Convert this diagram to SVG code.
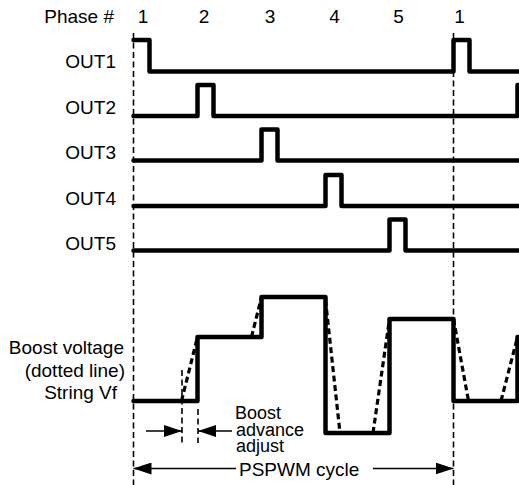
<svg xmlns="http://www.w3.org/2000/svg" width="519" height="485" viewBox="0 0 519 485">
<defs>
<style>
text{font-family:"Liberation Sans",Arial,sans-serif;font-size:19px;fill:#000}
.r{text-anchor:end}
.c{text-anchor:middle}
.s{font-size:18px}
.sig{fill:none;stroke:#000;stroke-width:4.5;stroke-linejoin:round;stroke-linecap:round}
.ref{fill:none;stroke:#000;stroke-width:1.6;stroke-dasharray:6 3.5}
.dot{fill:none;stroke:#000;stroke-width:3.2;stroke-dasharray:6 3.5}
.arr{fill:none;stroke:#000;stroke-width:1.6}
</style>
<marker id="ah" viewBox="0 0 18 12" refX="18" refY="6" markerWidth="18" markerHeight="12" markerUnits="userSpaceOnUse" orient="auto">
<path d="M0 0L18 6L0 12z" fill="#000"/>
</marker>
</defs>
<rect width="519" height="485" fill="#fff"/>
<g id="labels">
<text class="r" x="114" y="23">Phase #</text>
<text class="c" x="143" y="23">1</text>
<text class="c" x="204" y="23">2</text>
<text class="c" x="270" y="23">3</text>
<text class="c" x="334.5" y="23">4</text>
<text class="c" x="398.5" y="23">5</text>
<text class="c" x="459.5" y="23">1</text>
<text class="r" x="116" y="68">OUT1</text>
<text class="r" x="116" y="114">OUT2</text>
<text class="r" x="116" y="159">OUT3</text>
<text class="r" x="116" y="205">OUT4</text>
<text class="r" x="116" y="250">OUT5</text>
<text class="r" x="124" y="354">Boost voltage</text>
<text class="r" x="125" y="377">(dotted line)</text>
<text class="r" x="117" y="399">String Vf</text>
<text class="s" x="235" y="419">Boost</text>
<text class="s" x="236" y="435.5">advance</text>
<text class="s" x="236" y="452">adjust</text>
<text x="239" y="476">PSPWM cycle</text>
</g>
<g id="reference-lines">
<line class="ref" x1="133.5" y1="33" x2="133.5" y2="485"/>
<line class="ref" x1="453.5" y1="33" x2="453.5" y2="485"/>
<line class="ref" x1="182" y1="370" x2="182" y2="443"/>
<line class="ref" x1="198" y1="409" x2="198" y2="443"/>
</g>
<g id="out1"><path class="sig" d="M133.5 40H149.5V71.5H453.5V40H469.5V71.5H522"/></g>
<g id="out2"><path class="sig" d="M133.5 116H197.5V85H213.5V116H517.5V85H522"/></g>
<g id="out3"><path class="sig" d="M133.5 160.5H261.5V129.5H277.5V160.5H522"/></g>
<g id="out4"><path class="sig" d="M133.5 206H325.5V175H341.5V206H522"/></g>
<g id="out5"><path class="sig" d="M133.5 250.5H389.5V219.5H405.5V250.5H522"/></g>
<g id="boost">
<path class="sig" d="M133.5 401H197.5V337H261.5V297H325.5V433H389.5V319H453.5V401H517.5V337H522"/>
<path class="dot" d="M181.5 401L197.5 337"/>
<path class="dot" d="M251.5 337L261.5 297"/>
<path class="dot" d="M325.5 300L340 433"/>
<path class="dot" d="M373 433L389.5 319"/>
<path class="dot" d="M453.5 319L468.5 401"/>
<path class="dot" d="M501 401L517.5 337"/>
</g>
<g id="connectors">
<line class="arr" x1="146" y1="431" x2="182" y2="431" marker-end="url(#ah)"/>
<line class="arr" x1="232" y1="431" x2="198" y2="431" marker-end="url(#ah)"/>
<line class="arr" x1="236" y1="468.5" x2="133.5" y2="468.5" marker-end="url(#ah)"/>
<line class="arr" x1="373" y1="468.5" x2="453.5" y2="468.5" marker-end="url(#ah)"/>
</g>
</svg>
